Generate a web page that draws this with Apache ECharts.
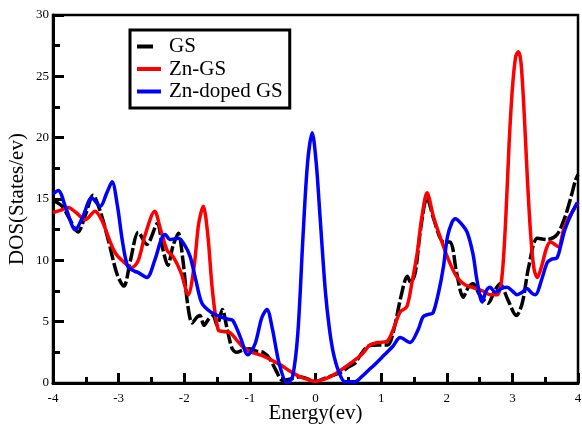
<!DOCTYPE html>
<html>
<head>
<meta charset="utf-8">
<script src="https://cdn.jsdelivr.net/npm/echarts@6/dist/echarts.min.js"></script>
<style>
  html, body { margin: 0; padding: 0; background: #fff; }
  #chart { width: 582px; height: 425px; }
</style>
</head>
<body>
<div id="chart"></div>
<script>
  // GS (black, dashed)
  var gsE = [-4.00, -3.86, -3.74, -3.62, -3.50, -3.39, -3.28, -3.15, -3.02, -2.92, -2.82, -2.70, -2.57, -2.41, -2.33, -2.25, -2.17, -2.09, -2.02, -1.95, -1.88, -1.80, -1.76, -1.70, -1.63, -1.56, -1.50, -1.42, -1.35, -1.27, -1.20, -1.10, -1.00, -0.90, -0.80, -0.70, -0.60, -0.50, -0.40, -0.25, -0.10, 0.00, 0.10, 0.25, 0.40, 0.50, 0.60, 0.70, 0.80, 0.95, 1.10, 1.20, 1.30, 1.40, 1.45, 1.52, 1.60, 1.70, 1.80, 1.95, 2.05, 2.15, 2.25, 2.33, 2.40, 2.50, 2.63, 2.72, 2.81, 2.93, 3.06, 3.15, 3.25, 3.38, 3.53, 3.68, 3.80, 3.90, 3.96, 4.00]
  var gsDos = [14.9, 14.4, 13.3, 12.3, 13.8, 15.3, 14.0, 11.5, 8.8, 7.9, 10.0, 12.3, 11.3, 13.0, 11.0, 9.6, 11.2, 12.2, 10.0, 6.5, 4.9, 5.4, 5.5, 4.7, 5.2, 5.5, 4.7, 6.0, 4.5, 2.8, 2.5, 2.7, 2.8, 2.6, 2.5, 2.0, 1.0, 0.2, 0.3, 0.5, 0.3, 0.1, 0.3, 0.6, 0.9, 1.3, 1.6, 2.4, 3.0, 3.1, 3.1, 4.5, 7.0, 8.7, 8.2, 9.0, 12.5, 15.1, 13.4, 11.5, 11.5, 9.0, 7.0, 7.8, 8.1, 7.2, 6.5, 7.4, 8.1, 6.8, 5.5, 6.5, 9.5, 11.8, 11.7, 12.1, 13.5, 15.3, 16.5, 17.0]

  // Zn-GS (red)
  var znE = [-4.00, -3.88, -3.77, -3.65, -3.51, -3.36, -3.25, -3.15, -3.05, -2.93, -2.80, -2.70, -2.60, -2.45, -2.36, -2.26, -2.17, -2.05, -1.94, -1.85, -1.78, -1.71, -1.64, -1.57, -1.48, -1.40, -1.30, -1.20, -1.10, -0.97, -0.80, -0.54, -0.40, -0.23, 0.00, 0.22, 0.40, 0.53, 0.70, 0.83, 0.95, 1.09, 1.18, 1.29, 1.39, 1.47, 1.55, 1.62, 1.70, 1.80, 1.90, 2.03, 2.16, 2.28, 2.39, 2.55, 2.66, 2.77, 2.84, 2.90, 2.95, 3.00, 3.05, 3.09, 3.13, 3.18, 3.23, 3.28, 3.33, 3.38, 3.45, 3.52, 3.58, 3.70, 3.78, 3.84, 3.92, 4.00]
  var znDos = [13.9, 14.1, 14.3, 13.9, 13.3, 14.0, 13.2, 11.8, 10.6, 9.9, 9.4, 10.0, 12.0, 14.0, 12.5, 10.8, 10.3, 9.0, 7.2, 9.5, 13.0, 14.4, 12.0, 7.5, 4.3, 4.2, 4.1, 3.5, 2.9, 2.5, 2.2, 1.5, 1.0, 0.5, 0.15, 0.5, 1.1, 1.6, 2.3, 3.1, 3.3, 3.4, 4.3, 5.8, 6.2, 8.2, 10.6, 13.5, 15.5, 13.5, 11.9, 10.0, 8.6, 8.0, 7.8, 7.5, 7.2, 7.2, 8.6, 13.5, 19.5, 24.0, 26.6, 27.0, 26.2, 22.0, 16.5, 12.0, 9.3, 8.6, 9.6, 11.0, 11.5, 11.1, 12.5, 13.3, 14.0, 14.7]

  // Zn-doped GS (blue)
  var dopE = [-4.00, -3.92, -3.80, -3.66, -3.55, -3.41, -3.28, -3.18, -3.10, -3.02, -2.94, -2.86, -2.75, -2.70, -2.57, -2.45, -2.35, -2.29, -2.22, -2.09, -2.00, -1.91, -1.82, -1.73, -1.60, -1.45, -1.33, -1.26, -1.15, -1.03, -0.92, -0.82, -0.74, -0.66, -0.55, -0.43, -0.35, -0.27, -0.19, -0.12, -0.05, 0.01, 0.07, 0.15, 0.21, 0.27, 0.35, 0.45, 0.60, 0.70, 0.80, 0.94, 1.05, 1.18, 1.29, 1.44, 1.56, 1.64, 1.72, 1.79, 1.88, 1.95, 2.01, 2.08, 2.13, 2.22, 2.31, 2.40, 2.46, 2.54, 2.60, 2.66, 2.74, 2.83, 2.92, 3.00, 3.07, 3.15, 3.22, 3.30, 3.35, 3.45, 3.53, 3.60, 3.68, 3.75, 3.80, 3.90, 3.99]
  var dopDos = [15.4, 15.7, 14.2, 12.5, 13.5, 15.1, 14.4, 15.5, 16.4, 14.5, 11.5, 9.5, 9.1, 9.0, 8.6, 10.0, 11.7, 12.1, 11.7, 11.8, 11.3, 10.3, 8.3, 6.5, 5.8, 5.4, 5.2, 5.1, 3.8, 2.3, 3.2, 5.3, 6.0, 4.5, 1.5, 0.0, 0.5, 4.0, 12.0, 18.0, 20.4, 18.0, 13.5, 7.5, 4.5, 2.5, 1.0, 0.1, 0.1, 0.5, 1.0, 1.7, 2.3, 3.0, 3.7, 3.3, 4.3, 5.4, 5.6, 5.7, 7.5, 9.5, 11.9, 13.1, 13.4, 13.0, 12.3, 10.5, 8.4, 6.6, 7.5, 7.8, 7.4, 7.7, 7.8, 7.5, 7.2, 7.4, 7.7, 7.3, 7.2, 8.5, 9.8, 10.1, 10.2, 11.5, 12.5, 13.8, 14.7]

  var seriesNames = ['GS', 'Zn-GS', 'Zn-doped GS']
  var seriesColors = ['#000000', '#ff0000', '#0000ff']

  function pairs(xs, ys) {
    var out = []
    for (var i = 0; i < xs.length; i++) out.push([xs[i], ys[i]])
    return out
  }

  var font = 'Liberation Serif, Times New Roman, serif'
  var allData = [pairs(gsE, gsDos), pairs(znE, znDos), pairs(dopE, dopDos)]

  var series = []
  for (var i = 0; i < 3; i++) {
    series.push({
      name: seriesNames[i],
      type: 'line',
      smooth: 0.3,
      showSymbol: false,
      data: allData[i],
      color: seriesColors[i],
      lineStyle: {
        width: 3.5,
        color: seriesColors[i],
        type: i == 0 ? [14, 3] : 'solid'
      }
    })
  }

  // legend: GS icon is one dash of the dashed line, others a full bar
  var legendIcons = ['path://M0,0H16V4H0Z M24,0L24,4', 'rect', 'rect']

  var option = {
    backgroundColor: '#fff',
    animation: false,
    grid: {
      left: 53, right: 4, top: 15, bottom: 42,
      outerBoundsMode: 'none',
      containLabel: false,
      show: true, borderColor: '#000', borderWidth: 2.5
    },
    legend: {
      data: seriesNames.map(function (n, k) {
        return {
          name: n, icon: legendIcons[k],
          itemStyle: {color: seriesColors[k], borderWidth: 0},
          lineStyle: {type: 'solid', width: 0}
        }
      }),
      orient: 'vertical',
      left: 130, top: 30,
      padding: [6, 7, 6, 7],
      itemGap: 1.5,
      itemWidth: 24, itemHeight: 4,
      borderColor: '#000', borderWidth: 3,
      backgroundColor: '#fff',
      textStyle: {fontFamily: font, fontSize: 21, color: '#000', padding: [0, 0, 0, 3], lineHeight: 21}
    },
    xAxis: {
      type: 'value',
      min: -4, max: 4, interval: 1,
      name: 'Energy(ev)',
      nameLocation: 'middle',
      nameGap: 20,
      nameMoveOverlap: false,
      nameTextStyle: {fontFamily: font, fontSize: 21, color: '#000'},
      axisLine: {show: true, onZero: false, lineStyle: {color: '#000', width: 3}},
      axisTick: {inside: true, length: 10, lineStyle: {color: '#000', width: 3}},
      minorTick: {show: true, splitNumber: 2, length: 6, lineStyle: {color: '#000', width: 3}},
      splitLine: {show: false},
      axisLabel: {fontFamily: font, fontSize: 13, color: '#000', margin: 9}
    },
    yAxis: {
      type: 'value',
      min: 0, max: 30, interval: 5,
      name: 'DOS(States/ev)',
      nameLocation: 'middle',
      nameGap: 25,
      nameMoveOverlap: false,
      nameTextStyle: {fontFamily: font, fontSize: 21, color: '#000'},
      axisLine: {show: true, onZero: false, lineStyle: {color: '#000', width: 3}},
      axisTick: {inside: true, length: 11, lineStyle: {color: '#000', width: 3}},
      minorTick: {show: true, splitNumber: 2, length: 7, lineStyle: {color: '#000', width: 3}},
      splitLine: {show: false},
      axisLabel: {fontFamily: font, fontSize: 13, color: '#000', margin: 4}
    },
    series: series
  }

  echarts.init(document.getElementById('chart')).setOption(option)
</script>
</body>
</html>
